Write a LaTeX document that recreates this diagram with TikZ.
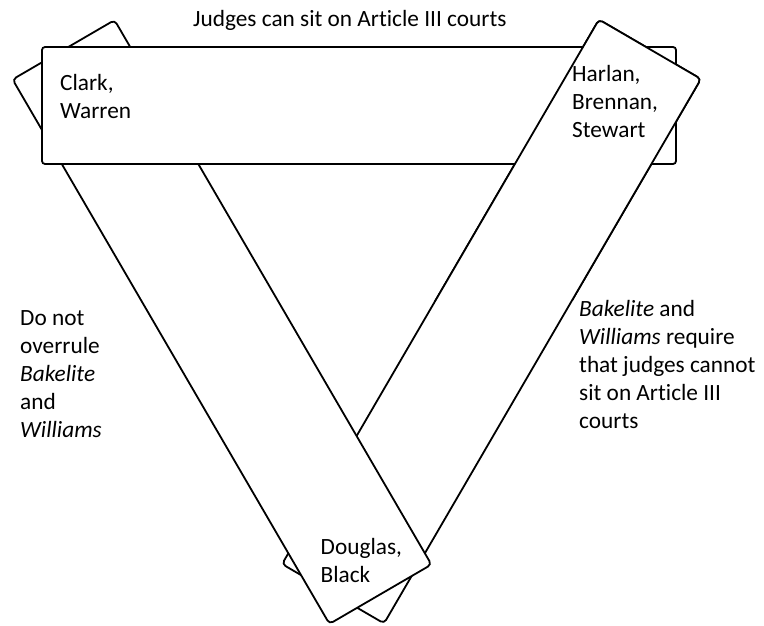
\documentclass[tikz,border=0pt]{standalone}
\usepackage{fontspec}
\setmainfont{Carlito}[Ligatures=NoCommon]
\begin{document}
\begin{tikzpicture}[x=1pt,y=-1pt,
  bar/.style={draw=black, fill=white, line width=1.8pt, rounded corners=4pt,
    minimum width=118pt, minimum height=630pt, inner sep=0pt},
  hbar/.style={draw=black, fill=white, line width=1.8pt, rounded corners=3pt,
    minimum width=634pt, minimum height=117pt, inner sep=0pt},
  lbl/.style={inner sep=0pt, anchor=base west, align=left,
    font=\fontsize{23.3}{28}\selectfont}]
\useasboundingbox (0,0) rectangle (764,626);
% right bar (bottom layer)
\node[bar, rotate=-30.2] (rbar) at (491.5,321.5) {};
% left bar covers right bar at the bottom
\node[bar, rotate=30.2] (lbar) at (222,322) {};
% horizontal bar covers left bar at the top
\node[hbar] (hbar) at (359,105.5) {};
% right bar covers horizontal bar at the top
\begin{scope}
  \clip (0,0) rectangle (764,300);
  \node[bar, rotate=-30.2] (rbartop) at (491.5,321.5) {};
\end{scope}
% texts (anchor = baseline of the last line)
\node[lbl] (title) at (193,27) {Judges can sit on Article III courts};
\node[lbl] (cw) at (60,118) {Clark,\\Warren};
\node[lbl] (hbs) at (572,137) {Harlan,\\Brennan,\\Stewart};
\node[lbl] (db) at (320.5,582) {Douglas,\\Black};
\node[lbl] (left) at (20,437.5) {Do not\\overrule\\\textit{Bakelite}\\and\\\textit{Williams}};
\node[lbl] (right) at (579,428.5) {\textit{Bakelite} and\\\textit{Williams} require\\that judges cannot\\sit on Article III\\courts};
\end{tikzpicture}
\end{document}
